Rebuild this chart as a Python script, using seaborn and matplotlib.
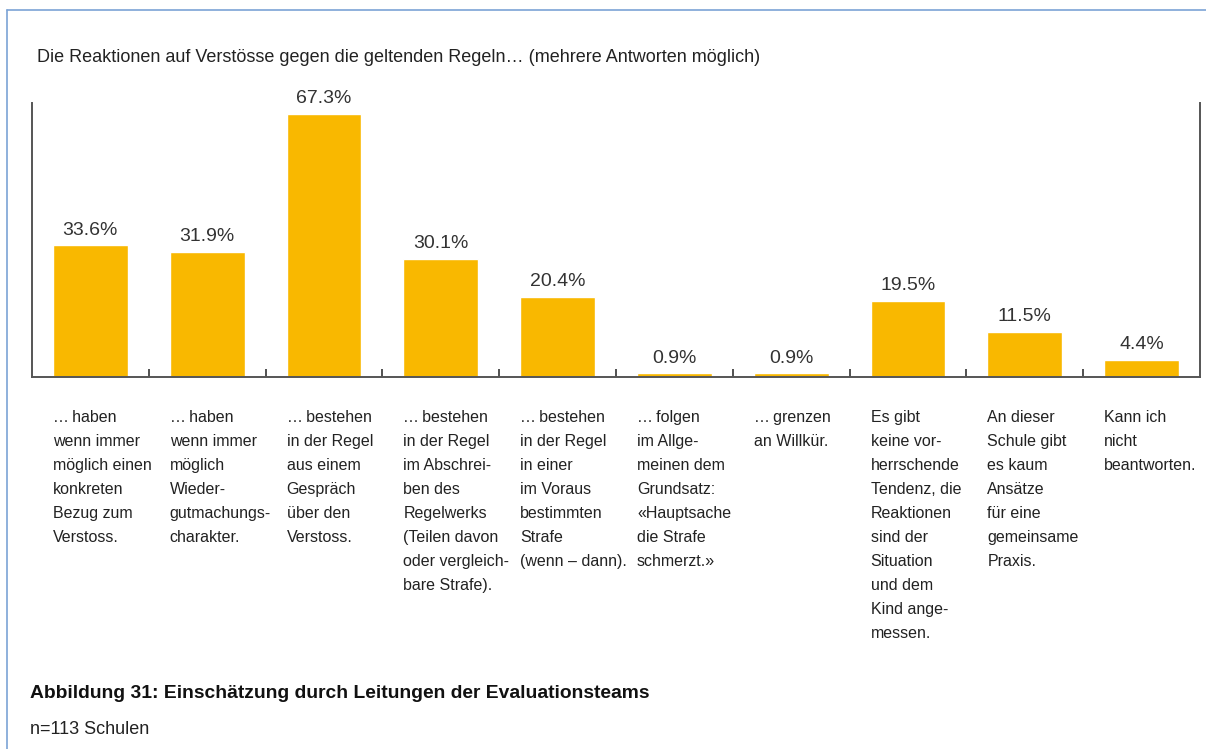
import seaborn as sns
import matplotlib.pyplot as plt
import pandas as pd
from matplotlib.lines import Line2D

CATEGORIES = ["K1", "K2", "K3", "K4", "K5", "K6", "K7", "K8", "K9", "K10"]
VALUES = [33.6, 31.9, 67.3, 30.1, 20.4, 0.9, 0.9, 19.5, 11.5, 4.4]
LABELS = [
    "\u2026\u2009haben\nwenn immer\nmöglich einen\nkonkreten\nBezug zum\nVerstoss.",
    "\u2026\u2009haben\nwenn immer\nmöglich\nWieder-\ngutmachungs-\ncharakter.",
    "\u2026\u2009bestehen\nin der Regel\naus einem\nGespräch\nüber den\nVerstoss.",
    "\u2026\u2009bestehen\nin der Regel\nim Abschrei-\nben des\nRegelwerks\n(Teilen davon\noder vergleich-\nbare Strafe).",
    "\u2026\u2009bestehen\nin der Regel\nin einer\nim Voraus\nbestimmten\nStrafe\n(wenn – dann).",
    "\u2026\u2009folgen\nim Allge-\nmeinen dem\nGrundsatz:\n«Hauptsache\ndie Strafe\nschmerzt.»",
    "\u2026\u2009grenzen\nan Willkür.",
    "Es gibt\nkeine vor-\nherrschende\nTendenz, die\nReaktionen\nsind der\nSituation\nund dem\nKind ange-\nmessen.",
    "An dieser\nSchule gibt\nes kaum\nAnsätze\nfür eine\ngemeinsame\nPraxis.",
    "Kann ich\nnicht\nbeantworten.",
]
TITLE = "Die Reaktionen auf Verstösse gegen die geltenden Regeln\u2026 (mehrere Antworten möglich)"
CAPTION = "Abbildung 31: Einschätzung durch Leitungen der Evaluationsteams"
NOTE = "n=113 Schulen"

sns.set_style("white")
plt.rcParams["font.family"] = ["Liberation Sans", "DejaVu Sans"]

df = pd.DataFrame({"cat": CATEGORIES, "val": VALUES})

fig = plt.figure(figsize=(12.06, 7.49), dpi=100)
ax = fig.add_axes([32 / 1206, 1 - 377 / 749, (1200 - 32) / 1206, (377 - 103) / 749])

sns.barplot(data=df, x="cat", y="val", color="#F9B800", saturation=1,
            width=0.64, ax=ax, errorbar=None)

ax.set_xlim(-0.5, len(CATEGORIES) - 0.5)
ax.set_ylim(0, 70)
ax.set_xlabel("")
ax.set_ylabel("")
ax.set_yticks([])
ax.set_xticks([i + 0.5 for i in range(len(CATEGORIES) - 1)])
ax.set_xticklabels([])
ax.tick_params(axis="x", direction="in", length=6, width=1.2, color="#333333", bottom=True)

for side in ["left", "right", "bottom"]:
    ax.spines[side].set_visible(True)
    ax.spines[side].set_color("#555555")
    ax.spines[side].set_linewidth(1.4)
ax.spines["top"].set_visible(False)

# value labels
for i, v in enumerate(VALUES):
    ax.annotate(f"{v:.1f}%", (i, v), xytext=(0, 5), textcoords="offset points",
                ha="center", va="bottom", fontsize=14, color="#333333")

# category labels under the bars
for i, lab in enumerate(LABELS):
    ax.annotate(lab, (i - 0.32, 0), xycoords=("data", "axes fraction"),
                xytext=(0, -24), textcoords="offset points",
                ha="left", va="top", fontsize=11.5, color="#222222",
                linespacing=1.75, annotation_clip=False)

fig.text(37 / 1206, 1 - 57 / 749, TITLE, fontsize=12.95, color="#222222", va="center")
fig.text(30 / 1206, 1 - 693 / 749, CAPTION, fontsize=13.9, fontweight="bold",
         color="#111111", va="center")
fig.text(30 / 1206, 1 - 729 / 749, NOTE, fontsize=13, color="#222222", va="center")

# light blue frame at top and left
fig.add_artist(Line2D([7 / 1206, 7 / 1206], [0, 1 - 10 / 749], color="#7BA3D6", lw=1.2))
fig.add_artist(Line2D([7 / 1206, 1], [1 - 10 / 749, 1 - 10 / 749], color="#7BA3D6", lw=1.2))

fig.savefig("out.png", dpi=100)
